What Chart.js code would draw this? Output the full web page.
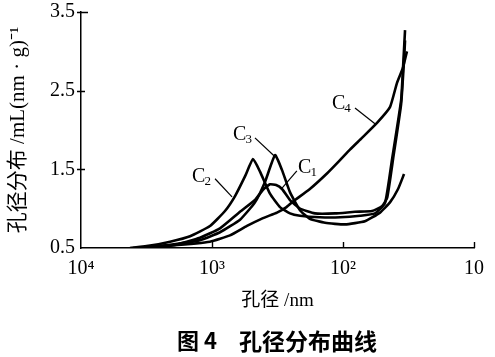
<!DOCTYPE html>
<html><head><meta charset="utf-8">
<script src="https://cdn.jsdelivr.net/npm/chart.js@4/dist/chart.umd.min.js"></script>
<style>html,body{margin:0;padding:0;background:#fff}#wrap{width:495px;height:357px;position:relative}</style>
</head><body><div id="wrap"><canvas id="c"></canvas></div>
<script>
// ---- data (pore size in nm, distribution in mL/(nm·g)) ----
const xTickValues = [10000, 1000, 100, 10];
const xTickLabels = ['10⁴', '10³', '10²', '10'];
const yTickValues = [0.5, 1.5, 2.5, 3.5];

const c1Size = [3250, 1916, 1235, 869, 611, 470, 408, 361, 324, 292, 254, 213, 164, 115, 81, 60, 50.4, 46, 41.4, 36, 34.2, 33.6];
const c1Dist = [0.50, 0.54, 0.63, 0.75, 0.96, 1.11, 1.24, 1.31, 1.30, 1.25, 1.11, 1.00, 0.94, 0.94, 0.96, 0.97, 1.03, 1.14, 1.64, 2.33, 2.89, 3.14];

const c2Size = [4230, 2970, 2090, 1470, 1036, 796, 667, 560, 486, 430, 361, 303, 254, 213, 150, 105, 74, 57, 47.8, 42.3, 36, 34.9, 33.6];
const c2Dist = [0.50, 0.53, 0.58, 0.65, 0.78, 0.97, 1.16, 1.41, 1.63, 1.47, 1.19, 1.02, 0.94, 0.91, 0.89, 0.89, 0.91, 0.94, 1.07, 1.62, 2.38, 2.76, 3.27];

const c3Size = [3540, 2090, 1235, 869, 611, 470, 394, 330, 292, 254, 213, 179, 137, 96.6, 68, 52.2, 43.8, 38, 34.2];
const c3Dist = [0.50, 0.54, 0.60, 0.70, 0.86, 1.08, 1.34, 1.68, 1.49, 1.21, 0.98, 0.87, 0.82, 0.80, 0.84, 0.95, 1.08, 1.25, 1.44];

const c4Size = [4010, 2090, 1036, 729, 541, 408, 319, 270, 241, 179, 132, 105, 88.5, 71.6, 55, 43.8, 38.7, 34.9, 32.5];
const c4Dist = [0.50, 0.53, 0.58, 0.66, 0.78, 0.88, 0.95, 1.02, 1.09, 1.25, 1.45, 1.62, 1.75, 1.90, 2.09, 2.29, 2.60, 2.79, 3.00];

const curveNames = ['C1', 'C2', 'C3', 'C4'];

// ---- annotation placement (label position and leader line, in data units) ----
const labelText = ['C', 'C', 'C', 'C'];
const labelSub = ['1', '2', '3', '4'];
const labelAt = [[185, 1.54], [1192, 1.43], [580, 1.96], [102, 2.36]];
const leaderFrom = [[225, 1.48], [948, 1.38], [470, 1.90], [81, 2.28]];
const leaderTo = [[292, 1.26], [703, 1.15], [330, 1.66], [57, 2.08]];

function pts(xs, ys) { return xs.map((x, i) => ({x: x, y: ys[i]})); }

const serif = '"Liberation Serif", "Times New Roman", "Noto Sans CJK SC", serif';
const cjk = '"Liberation Serif", "Noto Sans CJK SC", serif';

const tickMarks = {
  id: 'tickMarks',
  afterDraw(chart) {
    const ctx = chart.ctx, xs = chart.scales.x, ys = chart.scales.y;
    ctx.save();
    ctx.strokeStyle = '#000';
    ctx.lineWidth = 1.4;
    ctx.beginPath();
    xTickValues.forEach(v => {
      if (v === 10000) return;
      const p = Math.round(xs.getPixelForValue(v)) + 0.5;
      ctx.moveTo(p, ys.bottom); ctx.lineTo(p, ys.bottom - 6);
    });
    yTickValues.forEach(v => {
      if (v === 0.5) return;
      const p = Math.round(ys.getPixelForValue(v)) + 0.5;
      ctx.moveTo(xs.left - 4, p); ctx.lineTo(xs.left + (v === 3.5 ? 7 : 4), p);
    });
    ctx.stroke();
    ctx.restore();
  }
};

const curveLabels = {
  id: 'curveLabels',
  afterDraw(chart) {
    const ctx = chart.ctx, xs = chart.scales.x, ys = chart.scales.y;
    ctx.save();
    ctx.strokeStyle = '#000';
    ctx.fillStyle = '#000';
    ctx.lineWidth = 1.2;
    for (let i = 0; i < labelText.length; i++) {
      ctx.beginPath();
      ctx.moveTo(xs.getPixelForValue(leaderFrom[i][0]), ys.getPixelForValue(leaderFrom[i][1]));
      ctx.lineTo(xs.getPixelForValue(leaderTo[i][0]), ys.getPixelForValue(leaderTo[i][1]));
      ctx.stroke();
      const lx = xs.getPixelForValue(labelAt[i][0]);
      const ly = ys.getPixelForValue(labelAt[i][1]);
      ctx.font = '20px ' + serif;
      ctx.textBaseline = 'alphabetic';
      const w = ctx.measureText(labelText[i]).width;
      ctx.font = '13px ' + serif;
      const ws = ctx.measureText(labelSub[i]).width;
      const x0 = lx - (w + ws) / 2;
      ctx.font = '20px ' + serif;
      ctx.textAlign = 'left';
      ctx.fillText(labelText[i], x0, ly + 7);
      ctx.font = '13px ' + serif;
      ctx.fillText(labelSub[i], x0 + w - 1, ly + 10);
    }
    ctx.restore();
  }
};

const caption = {
  id: 'caption',
  afterDraw(chart) {
    const ctx = chart.ctx;
    ctx.save();
    ctx.fillStyle = '#000';
    ctx.font = 'bold 22px "Noto Sans CJK SC", sans-serif';
    ctx.textBaseline = 'middle';
    ctx.textAlign = 'left';
    ctx.fillText('图 4', 177, 341);
    ctx.font = 'bold 23px "Noto Sans CJK SC", sans-serif';
    ctx.fillText('孔径分布曲线', 239, 341);
    ctx.restore();
  }
};

const datasets = [[c1Size, c1Dist], [c2Size, c2Dist], [c3Size, c3Dist], [c4Size, c4Dist]].map((d, i) => ({
  label: curveNames[i],
  data: pts(d[0], d[1]),
  borderColor: '#000',
  borderWidth: 2.6,
  pointRadius: 0,
  fill: false,
  tension: 0.15
}));

new Chart(document.getElementById('c'), {
  type: 'line',
  data: {datasets: datasets},
  options: {
    responsive: true,
    maintainAspectRatio: false,
    animation: false,
    devicePixelRatio: 1,
    layout: {padding: {left: 0, right: 21, top: 12, bottom: 45}},
    plugins: {legend: {display: false}, tooltip: {enabled: false}, title: {display: false}},
    scales: {
      x: {
        type: 'logarithmic',
        reverse: true,
        min: 10, max: 10000,
        afterBuildTicks: s => { s.ticks = xTickValues.map(v => ({value: v})); },
        afterFit: s => { s.height = 64; s.paddingLeft = 0; s.paddingRight = 0; },
        ticks: {
          autoSkip: false, maxRotation: 0, padding: 9,
          color: '#000',
          font: {family: serif, size: 20},
          callback: (v) => { const k = xTickValues.indexOf(v); return k >= 0 ? xTickLabels[k] : ''; }
        },
        grid: {display: false, drawTicks: false},
        border: {display: true, color: '#000', width: 1.5},
        title: {display: true, text: '孔径 /nm', color: '#000', font: {family: cjk, size: 19}, padding: 0}
      },
      y: {
        type: 'linear',
        min: 0.5, max: 3.5,
        afterBuildTicks: s => { s.ticks = yTickValues.map(v => ({value: v})); },
        afterFit: s => { s.width = 81; s.paddingTop = 0; s.paddingBottom = 0; },
        ticks: {
          padding: 6, color: '#000',
          font: {family: serif, size: 20},
          callback: v => v.toFixed(1)
        },
        grid: {display: false, drawTicks: false},
        border: {display: true, color: '#000', width: 1.5},
        title: {display: true, text: '孔径分布 /mL(nm · g)⁻¹', color: '#000', font: {family: cjk, size: 21}, padding: {top: 6, bottom: 0}}
      }
    }
  },
  plugins: [tickMarks, curveLabels, caption]
});
</script>
</body></html>
